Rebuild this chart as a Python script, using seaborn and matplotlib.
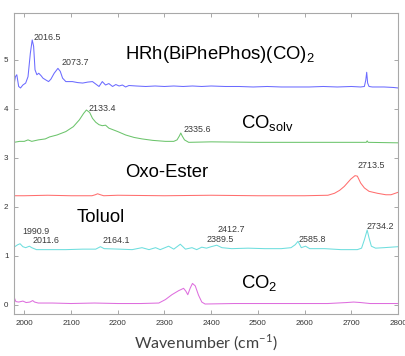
import matplotlib
matplotlib.use("Agg")
import matplotlib.pyplot as plt
import seaborn as sns
import pandas as pd

# ---------------- data ----------------
hrh_x = [1978, 1981, 1984, 1988, 1992, 1997, 2003, 2008, 2013, 2017, 2020, 2023, 2027, 2031,
         2036, 2040, 2045, 2052, 2057, 2064, 2072, 2077, 2082, 2089, 2103, 2114, 2125, 2136,
         2146, 2153, 2160, 2167, 2174, 2181, 2189, 2196, 2203, 2210, 2217, 2224, 2240, 2260,
         2280, 2300, 2320, 2340, 2360, 2380, 2400, 2430, 2460, 2490, 2520, 2550, 2580, 2610,
         2640, 2670, 2700, 2720, 2728, 2731, 2733, 2735, 2738, 2745, 2770, 2790, 2800]
hrh_y = [4.48, 4.65, 4.69, 4.45, 4.42, 4.48, 4.52, 4.65, 5.13, 5.40, 5.27, 4.79, 4.69, 4.72,
         4.67, 4.62, 4.59, 4.55, 4.60, 4.72, 4.82, 4.76, 4.62, 4.55, 4.55, 4.53, 4.52, 4.54,
         4.55, 4.50, 4.45, 4.55, 4.48, 4.51, 4.45, 4.49, 4.46, 4.48, 4.44, 4.47, 4.46, 4.45,
         4.46, 4.45, 4.46, 4.45, 4.46, 4.45, 4.46, 4.45, 4.45, 4.44, 4.45, 4.44, 4.44, 4.44,
         4.45, 4.44, 4.45, 4.44, 4.45, 4.58, 4.74, 4.52, 4.45, 4.44, 4.44, 4.43, 4.42]

cosolv_x = [1978, 1990, 2000, 2008, 2016, 2030, 2045, 2054, 2070, 2089, 2105, 2118, 2127,
            2133, 2140, 2146, 2153, 2160, 2167, 2174, 2181, 2200, 2217, 2235, 2252, 2275,
            2302, 2320, 2327, 2332, 2335, 2338, 2343, 2352, 2400, 2500, 2600, 2700, 2732,
            2734, 2736, 2800]
cosolv_y = [3.31, 3.33, 3.33, 3.36, 3.33, 3.36, 3.38, 3.42, 3.46, 3.53, 3.63, 3.77, 3.90,
            3.97, 3.92, 3.80, 3.72, 3.67, 3.65, 3.66, 3.60, 3.53, 3.46, 3.41, 3.38, 3.35,
            3.33, 3.33, 3.36, 3.44, 3.50, 3.44, 3.36, 3.31, 3.32, 3.31, 3.31, 3.31, 3.31,
            3.34, 3.31, 3.30]

oxo_x = [1978, 2000, 2050, 2100, 2145, 2152, 2157, 2163, 2170, 2200, 2300, 2400, 2500,
         2600, 2650, 2664, 2675, 2685, 2699, 2708, 2713, 2720, 2728, 2738, 2756, 2774,
         2785, 2800]
oxo_y = [2.22, 2.22, 2.23, 2.22, 2.22, 2.24, 2.26, 2.24, 2.22, 2.23, 2.22, 2.23, 2.22,
         2.22, 2.23, 2.27, 2.33, 2.41, 2.56, 2.63, 2.62, 2.48, 2.38, 2.31, 2.27, 2.24,
         2.24, 2.29]

tol_x = [1978, 1986, 1991, 1997, 2003, 2011, 2016, 2026, 2054, 2089, 2125, 2153, 2163,
         2171, 2203, 2231, 2252, 2267, 2281, 2291, 2309, 2320, 2334, 2345, 2359, 2369,
         2380, 2390, 2400, 2412, 2423, 2444, 2479, 2515, 2550, 2571, 2580, 2586, 2593,
         2602, 2611, 2643, 2678, 2713, 2722, 2728, 2734, 2738, 2743, 2752, 2770, 2800]
tol_y = [1.17, 1.22, 1.24, 1.18, 1.16, 1.19, 1.16, 1.12, 1.12, 1.12, 1.13, 1.13, 1.18,
         1.14, 1.13, 1.12, 1.16, 1.12, 1.16, 1.12, 1.19, 1.13, 1.23, 1.13, 1.16, 1.12,
         1.17, 1.15, 1.18, 1.21, 1.16, 1.14, 1.15, 1.14, 1.14, 1.16, 1.22, 1.29, 1.16,
         1.19, 1.14, 1.14, 1.12, 1.12, 1.15, 1.32, 1.52, 1.36, 1.19, 1.15, 1.16, 1.18]

co2_x = [1978, 1979, 1982, 1988, 1997, 2004, 2012, 2018, 2022, 2030, 2060, 2100, 2150,
         2200, 2250, 2288, 2302, 2316, 2330, 2341, 2346, 2350, 2355, 2360, 2366, 2373,
         2380, 2387, 2450, 2550, 2650, 2690, 2705, 2720, 2740, 2790, 2800]
co2_y = [0.10, 0.13, 0.06, 0.05, 0.07, 0.04, 0.05, 0.08, 0.05, 0.03, 0.03, 0.02, 0.03,
         0.02, 0.02, 0.03, 0.10, 0.20, 0.28, 0.33, 0.27, 0.20, 0.33, 0.43, 0.38, 0.19,
         0.05, 0.01, 0.02, 0.02, 0.02, 0.04, 0.05, 0.04, 0.02, 0.02, 0.02]

series_names = ["HRh", "COsolv", "Oxo", "Toluol", "CO2"]
series_colors = ["#6b6bff", "#6cc46c", "#ff6e6e", "#6edede", "#de6ede"]

peak_labels = ["2016.5", "2073.7", "2133.4", "2335.6", "2713.5",
               "1990.9", "2011.6", "2164.1", "2412.7", "2389.5", "2585.8", "2734.2"]
peak_lx = [2020, 2079, 2137, 2340, 2713, 1996, 2017, 2167, 2413, 2391, 2587, 2732]
peak_ly = [5.46, 4.94, 4.00, 3.58, 2.83, 1.50, 1.31, 1.31, 1.54, 1.33, 1.33, 1.59]

big_labels = ["HRh(BiPhePhos)(CO)$_{\\mathregular{2}}$", "CO$_{\\mathregular{solv}}$",
              "Oxo-Ester", "Toluol", "CO$_{\\mathregular{2}}$"]
big_lx = [2215, 2464, 2215, 2113, 2464]
big_ly = [5.10, 3.70, 2.70, 1.78, 0.44]

x_ticks = [2000, 2100, 2200, 2300, 2400, 2500, 2600, 2700, 2800]
y_ticks = [0, 1, 2, 3, 4, 5]

# ---------------- figure ----------------
sns.set_theme(style="white")
plt.rcParams["font.family"] = ["Liberation Sans", "DejaVu Sans"]
plt.rcParams["mathtext.fontset"] = "custom"
plt.rcParams["mathtext.rm"] = "Liberation Sans"

fig = plt.figure(figsize=(4.06, 3.56), dpi=100)
ax = fig.add_axes([14 / 406, 1 - 314.3 / 356, (398 - 14) / 406, (314.3 - 13) / 356])

all_x = [hrh_x, cosolv_x, oxo_x, tol_x, co2_x]
all_y = [hrh_y, cosolv_y, oxo_y, tol_y, co2_y]
for name, xs, ys, col in zip(series_names, all_x, all_y, series_colors):
    df = pd.DataFrame({"x": xs, "y": ys})
    sns.lineplot(data=df, x="x", y="y", ax=ax, color=col, lw=0.75, estimator=None, sort=False)

for t, x, y in zip(peak_labels, peak_lx, peak_ly):
    ax.text(x, y, t, fontsize=6.4, color="#3a3a3a", ha="left", va="center", clip_on=False)

for t, x, y in zip(big_labels, big_lx, big_ly):
    ax.text(x, y, t, fontsize=13.3, color="black", ha="left", va="center")

ax.set_xlim(1978, 2800)
ax.set_ylim(-0.2, 5.95)
ax.set_xticks(x_ticks)
ax.set_yticks(y_ticks)
ax.tick_params(direction="in", length=3, width=0.6, colors="#9a9a9a", labelcolor="#333333",
               labelsize=5.8, top=True, right=True, left=True, bottom=True, pad=4)
for s in ax.spines.values():
    s.set_color("#a8a8a8")
    s.set_linewidth(0.8)
ax.set_ylabel("")
ax.set_xlabel("Wavenumber (cm$^{\\mathregular{-1}}$)", fontsize=11.5, color="#404040",
              family=["Lato", "DejaVu Sans"], labelpad=4)

fig.savefig("out.png", dpi=100)
